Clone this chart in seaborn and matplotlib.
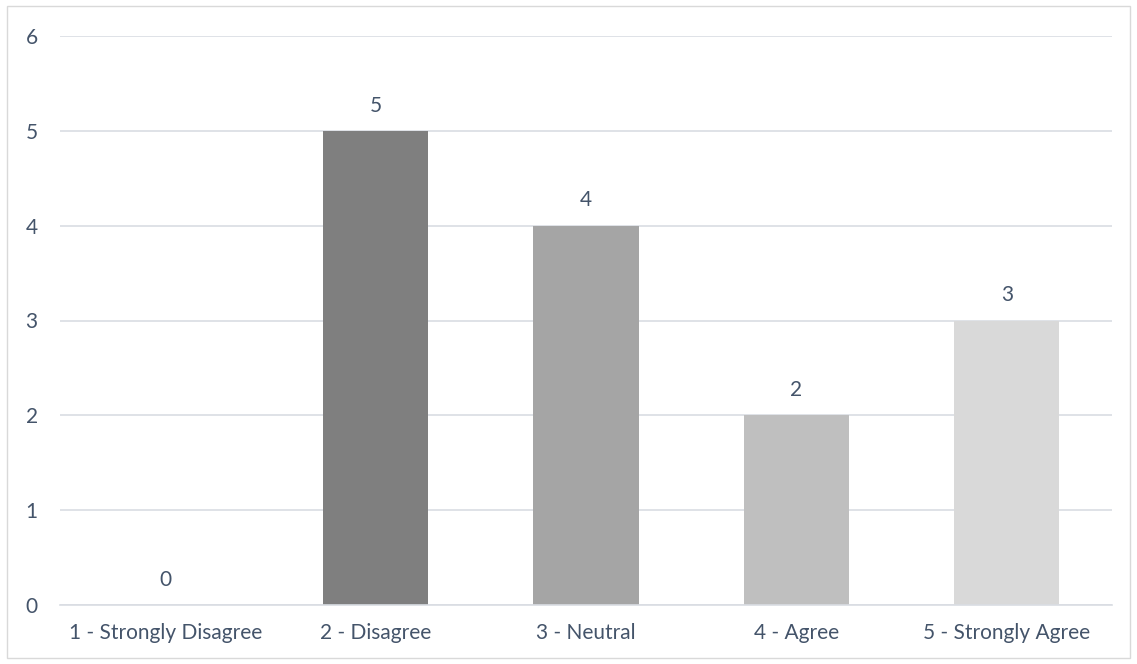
import matplotlib
matplotlib.use("Agg")
import matplotlib.pyplot as plt
import seaborn as sns
import pandas as pd
from matplotlib.patches import Rectangle

categories = ["1 - Strongly Disagree", "2 - Disagree", "3 - Neutral", "4 - Agree", "5 - Strongly Agree"]
values = [0, 5, 4, 2, 3]
bar_colors = ["#595959", "#7f7f7f", "#a5a5a5", "#bfbfbf", "#d9d9d9"]
y_ticks = [0, 1, 2, 3, 4, 5, 6]

sns.set_theme(style="white")
plt.rcParams['font.family'] = ['Lato', 'DejaVu Sans']
text_color = "#44546a"
fs = 15

df = pd.DataFrame({"cat": categories, "val": values})

fig = plt.figure(figsize=(11.37, 6.64), dpi=100)
ax = fig.add_axes([60/1137, 1 - 605/664, (1112-60)/1137, (605-36)/664])

sns.barplot(data=df, x="cat", y="val", hue="cat", palette=bar_colors, legend=False,
            width=0.5, ax=ax, saturation=1, linewidth=0)

ax.set_ylim(0, 6)
ax.set_yticks(y_ticks)
ax.set_yticklabels([str(t) for t in y_ticks])
ax.set_xlim(-0.5, 4.5)
ax.grid(axis="y", color="#d9dde3", linewidth=1.2)
ax.set_axisbelow(True)
for s in ["top", "right", "left"]:
    ax.spines[s].set_visible(False)
ax.spines["bottom"].set_color("#d9dde3")
ax.spines["bottom"].set_linewidth(1.2)
ax.set_xlabel("")
ax.set_ylabel("")
ax.tick_params(axis="both", length=0, labelsize=fs, colors=text_color)
ax.tick_params(axis="y", pad=16)
ax.tick_params(axis="x", pad=13)

for i, v in enumerate(values):
    ax.annotate(str(v), (i, v), xytext=(0, 11), textcoords="offset points",
                ha="center", va="bottom", fontsize=fs, color=text_color)

fig.patches.append(Rectangle((7/1137, 6/664), 1 - 14/1137, 1 - 12/664,
                             transform=fig.transFigure, fill=False,
                             edgecolor="#d9d9d9", linewidth=1))

fig.savefig("out.png", dpi=100, facecolor="white")
